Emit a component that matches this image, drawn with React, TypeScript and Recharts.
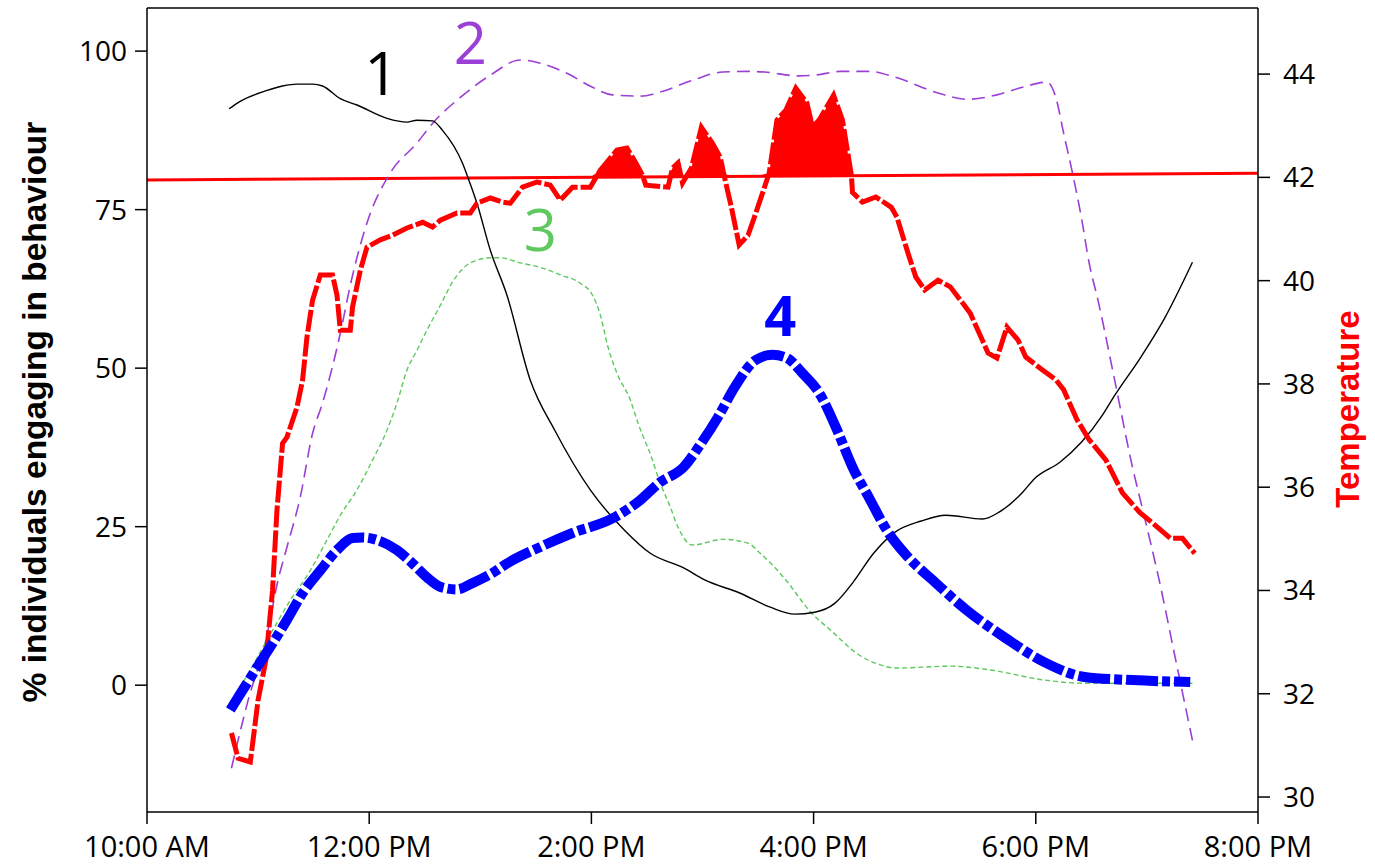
import React from 'react';
import { ComposedChart, Line, Area, XAxis, YAxis, ReferenceLine, ReferenceDot, Label } from 'recharts';

// time in hours (10 = 10:00 AM, 20 = 8:00 PM)
const timeTicks = [10, 12, 14, 16, 18, 20];
const timeLabels = ['10:00 AM', '12:00 PM', '2:00 PM', '4:00 PM', '6:00 PM', '8:00 PM'];
const pctTicks = [0, 25, 50, 75, 100];
const tempTicks = [30, 32, 34, 36, 38, 40, 42, 44];
const pctDomain = [-20, 106.8];
const tempDomain = [29.71, 45.28];

// behaviour 1 (black)
const behaviour1 = [
  { t: 10.74, v: 90.9 }, { t: 10.83, v: 92.0 }, { t: 11.08, v: 93.8 }, { t: 11.22, v: 94.5 },
  { t: 11.35, v: 94.8 }, { t: 11.49, v: 94.8 }, { t: 11.58, v: 94.5 }, { t: 11.74, v: 92.5 },
  { t: 11.89, v: 91.5 }, { t: 12.16, v: 89.4 }, { t: 12.34, v: 88.8 }, { t: 12.43, v: 89.1 },
  { t: 12.57, v: 89.0 }, { t: 12.66, v: 87.5 }, { t: 12.84, v: 82.3 }, { t: 12.89, v: 80.0 },
  { t: 12.97, v: 76.0 }, { t: 13.09, v: 68.6 }, { t: 13.24, v: 61.5 }, { t: 13.45, v: 48.1 },
  { t: 13.67, v: 40.2 }, { t: 13.99, v: 30.8 }, { t: 14.3, v: 24.4 }, { t: 14.53, v: 20.8 },
  { t: 14.83, v: 18.5 }, { t: 15.02, v: 16.6 }, { t: 15.34, v: 14.5 }, { t: 15.61, v: 12.3 },
  { t: 15.83, v: 11.2 }, { t: 16.01, v: 11.5 }, { t: 16.19, v: 12.9 }, { t: 16.35, v: 16.1 },
  { t: 16.54, v: 20.8 }, { t: 16.73, v: 24.1 }, { t: 16.97, v: 25.9 }, { t: 17.19, v: 26.8 },
  { t: 17.52, v: 26.2 }, { t: 17.67, v: 27.3 }, { t: 17.88, v: 30.4 }, { t: 17.99, v: 32.6 },
  { t: 18.22, v: 35.2 }, { t: 18.41, v: 38.3 }, { t: 18.6, v: 42.6 }, { t: 18.71, v: 45.7 },
  { t: 18.94, v: 51.6 }, { t: 19.16, v: 57.9 }, { t: 19.41, v: 66.7 },
];

// behaviour 2 (purple)
const behaviour2 = [
  { t: 10.76, v: -13.1 }, { t: 10.91, v: -2.4 }, { t: 11.07, v: 7.1 }, { t: 11.18, v: 16.6 },
  { t: 11.26, v: 21.8 }, { t: 11.38, v: 29.7 }, { t: 11.49, v: 39.7 }, { t: 11.58, v: 44.5 },
  { t: 11.74, v: 55.5 }, { t: 11.83, v: 63.1 }, { t: 11.98, v: 72.9 }, { t: 12.19, v: 80.8 },
  { t: 12.43, v: 85.5 }, { t: 12.57, v: 88.6 }, { t: 12.82, v: 92.7 }, { t: 13.09, v: 96.2 },
  { t: 13.36, v: 98.6 }, { t: 13.54, v: 98.1 }, { t: 13.78, v: 96.5 }, { t: 14.01, v: 94.3 },
  { t: 14.19, v: 93.1 }, { t: 14.44, v: 92.9 }, { t: 14.61, v: 93.5 }, { t: 14.91, v: 95.4 },
  { t: 15.18, v: 96.7 }, { t: 15.41, v: 96.8 }, { t: 15.56, v: 96.7 }, { t: 15.86, v: 96.1 },
  { t: 16.01, v: 96.2 }, { t: 16.24, v: 96.8 }, { t: 16.51, v: 96.8 }, { t: 16.73, v: 95.9 },
  { t: 17.12, v: 93.4 }, { t: 17.38, v: 92.4 }, { t: 17.65, v: 93.1 }, { t: 17.88, v: 94.3 },
  { t: 18.1, v: 95.1 }, { t: 18.18, v: 92.7 }, { t: 18.25, v: 87.1 }, { t: 18.33, v: 80.8 },
  { t: 18.41, v: 73.8 }, { t: 18.48, v: 66.6 }, { t: 18.56, v: 60.7 }, { t: 18.71, v: 48.1 },
  { t: 18.87, v: 34.4 }, { t: 18.97, v: 27.1 }, { t: 19.11, v: 16.6 }, { t: 19.26, v: 3.9 },
  { t: 19.41, v: -8.7 },
];

// behaviour 3 (green)
const behaviour3 = [
  { t: 10.75, v: -2.7 }, { t: 10.86, v: 0.3 }, { t: 11.08, v: 7.1 }, { t: 11.29, v: 13.4 },
  { t: 11.47, v: 18.1 }, { t: 11.62, v: 22.9 }, { t: 11.74, v: 26.8 }, { t: 11.89, v: 30.8 },
  { t: 12.03, v: 35.5 }, { t: 12.16, v: 40.2 }, { t: 12.25, v: 44.5 }, { t: 12.34, v: 49.7 },
  { t: 12.43, v: 52.8 }, { t: 12.52, v: 56.0 }, { t: 12.64, v: 59.9 }, { t: 12.75, v: 63.6 },
  { t: 12.91, v: 66.6 }, { t: 13.09, v: 67.4 }, { t: 13.18, v: 67.4 }, { t: 13.36, v: 66.6 },
  { t: 13.54, v: 65.9 }, { t: 13.72, v: 64.7 }, { t: 13.9, v: 63.4 }, { t: 14.01, v: 61.5 },
  { t: 14.08, v: 58.4 }, { t: 14.15, v: 53.3 }, { t: 14.23, v: 49.2 }, { t: 14.35, v: 45.0 },
  { t: 14.42, v: 41.3 }, { t: 14.54, v: 36.0 }, { t: 14.61, v: 32.3 }, { t: 14.71, v: 28.1 },
  { t: 14.78, v: 24.9 }, { t: 14.91, v: 22.1 }, { t: 15.18, v: 23.0 }, { t: 15.41, v: 22.4 },
  { t: 15.52, v: 20.8 }, { t: 15.75, v: 16.6 }, { t: 15.96, v: 11.8 }, { t: 16.17, v: 8.4 },
  { t: 16.39, v: 5.0 }, { t: 16.6, v: 3.2 }, { t: 16.74, v: 2.7 }, { t: 17.24, v: 3.0 },
  { t: 17.59, v: 2.4 }, { t: 18.08, v: 0.8 }, { t: 18.44, v: 0.3 }, { t: 19.41, v: 0.3 },
];

// behaviour 4 (blue)
const behaviour4 = [
  { t: 10.75, v: -3.9 }, { t: 10.86, v: -0.8 }, { t: 10.99, v: 2.8 }, { t: 11.13, v: 6.6 },
  { t: 11.26, v: 10.3 }, { t: 11.4, v: 14.5 }, { t: 11.56, v: 18.1 }, { t: 11.71, v: 21.3 },
  { t: 11.85, v: 23.2 }, { t: 11.94, v: 23.3 }, { t: 12.07, v: 22.9 }, { t: 12.25, v: 21.3 },
  { t: 12.39, v: 19.2 }, { t: 12.52, v: 17.0 }, { t: 12.64, v: 15.5 }, { t: 12.79, v: 15.1 },
  { t: 12.93, v: 16.1 }, { t: 13.11, v: 17.7 }, { t: 13.24, v: 19.2 }, { t: 13.54, v: 21.8 },
  { t: 13.83, v: 24.0 }, { t: 14.19, v: 26.3 }, { t: 14.44, v: 29.2 }, { t: 14.61, v: 31.9 },
  { t: 14.83, v: 34.4 }, { t: 14.99, v: 38.2 }, { t: 15.14, v: 42.3 }, { t: 15.29, v: 47.0 },
  { t: 15.48, v: 51.3 }, { t: 15.63, v: 52.1 }, { t: 15.75, v: 51.7 }, { t: 15.9, v: 49.2 },
  { t: 16.05, v: 46.1 }, { t: 16.2, v: 40.7 }, { t: 16.35, v: 34.4 }, { t: 16.51, v: 29.2 },
  { t: 16.66, v: 24.4 }, { t: 16.85, v: 20.2 }, { t: 17.07, v: 16.6 }, { t: 17.38, v: 11.8 },
  { t: 17.73, v: 7.4 }, { t: 18.08, v: 3.6 }, { t: 18.44, v: 1.3 }, { t: 18.87, v: 0.8 },
  { t: 19.39, v: 0.5 },
];

// temperature (red, right axis)
const temperature = [
  { t: 10.76, v: 31.24 }, { t: 10.82, v: 30.75 }, { t: 10.93, v: 30.68 }, { t: 11.0, v: 31.88 },
  { t: 11.07, v: 32.65 }, { t: 11.13, v: 34.0 }, { t: 11.17, v: 35.56 }, { t: 11.22, v: 36.85 },
  { t: 11.26, v: 36.97 }, { t: 11.35, v: 37.55 }, { t: 11.4, v: 38.07 }, { t: 11.44, v: 38.91 },
  { t: 11.49, v: 39.62 }, { t: 11.56, v: 40.11 }, { t: 11.67, v: 40.11 }, { t: 11.71, v: 39.72 },
  { t: 11.74, v: 39.04 }, { t: 11.83, v: 39.04 }, { t: 11.85, v: 39.49 }, { t: 11.92, v: 40.2 },
  { t: 11.98, v: 40.65 }, { t: 12.1, v: 40.79 }, { t: 12.21, v: 40.88 }, { t: 12.34, v: 41.02 },
  { t: 12.48, v: 41.13 }, { t: 12.57, v: 41.04 }, { t: 12.64, v: 41.17 }, { t: 12.79, v: 41.31 },
  { t: 12.91, v: 41.31 }, { t: 12.97, v: 41.5 }, { t: 13.09, v: 41.6 }, { t: 13.2, v: 41.52 },
  { t: 13.27, v: 41.5 }, { t: 13.38, v: 41.81 }, { t: 13.51, v: 41.91 }, { t: 13.63, v: 41.85 },
  { t: 13.72, v: 41.56 }, { t: 13.83, v: 41.81 }, { t: 13.99, v: 41.81 }, { t: 14.08, v: 42.14 },
  { t: 14.23, v: 42.53 }, { t: 14.32, v: 42.57 }, { t: 14.4, v: 42.28 }, { t: 14.46, v: 42.04 },
  { t: 14.49, v: 41.85 }, { t: 14.69, v: 41.81 }, { t: 14.73, v: 42.18 }, { t: 14.78, v: 42.28 },
  { t: 14.82, v: 41.89 }, { t: 14.9, v: 42.18 }, { t: 14.99, v: 42.97 }, { t: 15.09, v: 42.66 },
  { t: 15.16, v: 42.39 }, { t: 15.19, v: 42.08 }, { t: 15.26, v: 41.42 }, { t: 15.33, v: 40.69 },
  { t: 15.41, v: 40.88 }, { t: 15.48, v: 41.31 }, { t: 15.6, v: 42.08 }, { t: 15.67, v: 43.11 },
  { t: 15.75, v: 43.3 }, { t: 15.84, v: 43.73 }, { t: 15.94, v: 43.44 }, { t: 15.99, v: 42.97 },
  { t: 16.05, v: 43.11 }, { t: 16.18, v: 43.59 }, { t: 16.26, v: 43.11 }, { t: 16.34, v: 42.04 },
  { t: 16.35, v: 41.71 }, { t: 16.44, v: 41.52 }, { t: 16.56, v: 41.62 }, { t: 16.7, v: 41.42 },
  { t: 16.75, v: 41.23 }, { t: 16.85, v: 40.53 }, { t: 16.92, v: 40.07 }, { t: 17.0, v: 39.82 },
  { t: 17.12, v: 40.01 }, { t: 17.23, v: 39.88 }, { t: 17.34, v: 39.57 }, { t: 17.41, v: 39.37 },
  { t: 17.57, v: 38.6 }, { t: 17.65, v: 38.5 }, { t: 17.74, v: 39.1 }, { t: 17.84, v: 38.85 },
  { t: 17.91, v: 38.52 }, { t: 18.06, v: 38.27 }, { t: 18.18, v: 38.08 }, { t: 18.25, v: 37.89 },
  { t: 18.37, v: 37.31 }, { t: 18.48, v: 36.92 }, { t: 18.63, v: 36.53 }, { t: 18.78, v: 35.89 },
  { t: 18.94, v: 35.5 }, { t: 19.05, v: 35.31 }, { t: 19.21, v: 35.01 }, { t: 19.32, v: 35.01 },
  { t: 19.43, v: 34.72 },
];

// threshold line (slightly sloped), right axis
const threshold = [{ t: 10, v: 41.95 }, { t: 20, v: 42.08 }];

const thresholdAt = (t: number) =>
  threshold[0].v + ((t - threshold[0].t) * (threshold[1].v - threshold[0].v)) / (threshold[1].t - threshold[0].t);

const heatFill = temperature.map((p) => {
  const base = thresholdAt(p.t);
  return { t: p.t, range: [base, Math.max(p.v, base)] };
});

const tickFont = { fontFamily: 'Open Sans', fill: '#000' };
const titleFont = 'Liberation Sans';

export default function App() {
  return (
    <div style={{ position: 'absolute', left: 0, top: 0 }}>
      <ComposedChart width={1375} height={865} margin={{ top: 8, right: 0, bottom: 0, left: 0 }}>
        <XAxis
          dataKey="t"
          type="number"
          domain={[10, 20]}
          ticks={timeTicks}
          tickFormatter={(v: number) => timeLabels[timeTicks.indexOf(v)]}
          height={53}
          tickSize={12}
          tickMargin={12}
          stroke="#000"
          strokeWidth={1.5}
          tick={{ ...tickFont, fontSize: 29 }}
          allowDataOverflow
        />
        <YAxis
          yAxisId="left"
          domain={pctDomain}
          ticks={pctTicks}
          width={147}
          tickSize={12}
          tickMargin={8}
          stroke="#000"
          strokeWidth={1.5}
          tick={{ ...tickFont, fontSize: 28 }}
          allowDataOverflow
        >
          <Label
            content={() => (
              <text
                x={46}
                y={412}
                transform="rotate(-90 46 412)"
                textAnchor="middle"
                fontFamily={titleFont}
                fontWeight="bold"
                fontSize={33.5}
                fill="#000"
              >
                % individuals engaging in behaviour
              </text>
            )}
          />
        </YAxis>
        <YAxis
          yAxisId="right"
          orientation="right"
          domain={tempDomain}
          ticks={tempTicks}
          width={117}
          tickSize={12}
          tickMargin={13}
          stroke="#000"
          strokeWidth={1.5}
          tick={{ ...tickFont, fontSize: 28 }}
          allowDataOverflow
        >
          <Label
            content={() => (
              <text
                x={1359}
                y={409}
                transform="rotate(-90 1359 409)"
                textAnchor="middle"
                fontFamily={titleFont}
                fontWeight="bold"
                fontSize={33}
                fill="#ff0000"
              >
                Temperature
              </text>
            )}
          />
        </YAxis>

        <ReferenceLine yAxisId="left" y={pctDomain[1]} stroke="#000" strokeWidth={1.5} />

        <Area
          yAxisId="right"
          data={heatFill}
          dataKey="range"
          type="linear"
          stroke="none"
          fill="#ff0000"
          fillOpacity={1}
          isAnimationActive={false}
        />
        <Line
          yAxisId="right"
          data={threshold}
          dataKey="v"
          type="linear"
          stroke="#ff0000"
          strokeWidth={3}
          dot={false}
          isAnimationActive={false}
        />
        <Line
          yAxisId="left"
          data={behaviour2}
          dataKey="v"
          type="monotone"
          stroke="#9b3fd6"
          strokeWidth={1.6}
          strokeDasharray="13 7"
          dot={false}
          isAnimationActive={false}
        />
        <Line
          yAxisId="left"
          data={behaviour3}
          dataKey="v"
          type="monotone"
          stroke="#5fc95f"
          strokeWidth={1.4}
          strokeDasharray="5 3"
          dot={false}
          isAnimationActive={false}
        />
        <Line
          yAxisId="left"
          data={behaviour1}
          dataKey="v"
          type="monotone"
          stroke="#000"
          strokeWidth={1.4}
          dot={false}
          isAnimationActive={false}
        />
        <Line
          yAxisId="right"
          data={temperature}
          dataKey="v"
          type="linear"
          stroke="#ff0000"
          strokeWidth={5}
          strokeDasharray="22 3"
          dot={false}
          isAnimationActive={false}
        />
        <Line
          yAxisId="left"
          data={behaviour4}
          dataKey="v"
          type="monotone"
          stroke="#0000ff"
          strokeWidth={10}
          strokeDasharray="32 4 8 4"
          dot={false}
          isAnimationActive={false}
        />

        <ReferenceDot yAxisId="left" x={12.11} y={96.4} r={0}
          label={{ value: '1', position: 'center', fill: '#000', fontSize: 60, fontFamily: 'Open Sans' }} />
        <ReferenceDot yAxisId="left" x={12.91} y={101.2} r={0}
          label={{ value: '2', position: 'center', fill: '#9b3fd6', fontSize: 58, fontFamily: 'Open Sans' }} />
        <ReferenceDot yAxisId="left" x={13.54} y={71.8} r={0}
          label={{ value: '3', position: 'center', fill: '#5fc95f', fontSize: 58, fontFamily: 'Open Sans' }} />
        <ReferenceDot yAxisId="left" x={15.7} y={58.2} r={0}
          label={{ value: '4', position: 'center', fill: '#0000ff', fontSize: 56, fontWeight: 'bold', fontFamily: 'Open Sans' }} />
      </ComposedChart>
    </div>
  );
}
